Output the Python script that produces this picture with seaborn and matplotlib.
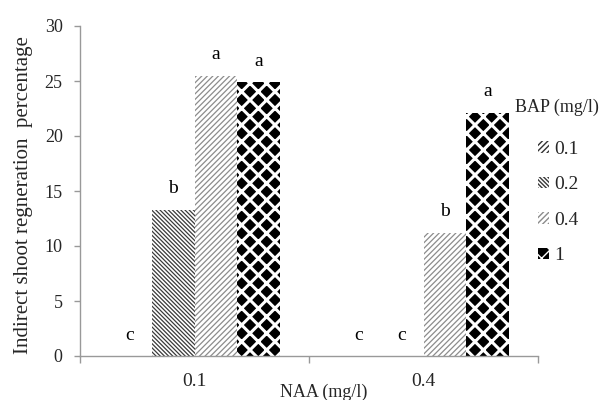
import numpy as np
import pandas as pd
import matplotlib
matplotlib.use("Agg")
import matplotlib.pyplot as plt
import seaborn as sns
from matplotlib.patches import Patch

naa_levels = ["0.1", "0.4"]
bap_levels = ["0.1", "0.2", "0.4", "1"]
values_naa_01 = [0.0, 13.3, 25.5, 24.9]
values_naa_04 = [0.0, 0.0, 11.2, 22.1]
letters_naa_01 = ["c", "b", "a", "a"]
letters_naa_04 = ["c", "c", "b", "a"]

rows = []
for naa, vals, lets in [("0.1", values_naa_01, letters_naa_01), ("0.4", values_naa_04, letters_naa_04)]:
    for b, v, l in zip(bap_levels, vals, lets):
        rows.append({"NAA": naa, "BAP": b, "value": v, "letter": l})
df = pd.DataFrame(rows)

sns.set_theme(style="white")
plt.rcParams["font.family"] = ["Liberation Serif", "DejaVu Serif"]
plt.rcParams["hatch.linewidth"] = 1.0

fig = plt.figure(figsize=(6.12, 4.0), dpi=100)
ax = fig.add_axes([80 / 612, 1 - 356 / 400, 458 / 612, 330 / 400])

sns.barplot(data=df, x="NAA", y="value", hue="BAP", order=naa_levels,
            hue_order=bap_levels, width=0.75, ax=ax, legend=False,
            errorbar=None, saturation=1)

styles = {
    "0.1": dict(facecolor="white", edgecolor="#333333", hatch="//////", hlw=1.0),
    "0.2": dict(facecolor="white", edgecolor="#3a3a3a", hatch="\\\\\\\\\\\\\\\\", hlw=0.9),
    "0.4": dict(facecolor="white", edgecolor="#8c8c8c", hatch="//////", hlw=0.9),
    "1": dict(facecolor="black", edgecolor="white", hatch="xx", hlw=2.2),
}

def style_patch(p, st):
    p.set_facecolor(st["facecolor"])
    p.set_edgecolor(st["edgecolor"])
    p.set_hatch(st["hatch"])
    p.set_linewidth(0)
    if hasattr(p, "set_hatch_linewidth"):
        p.set_hatch_linewidth(st["hlw"])

for cont, b in zip(ax.containers, bap_levels):
    st = styles[b]
    sub = df[df["BAP"] == b].set_index("NAA").loc[naa_levels]
    for p, v, l in zip(cont, sub["value"], sub["letter"]):
        style_patch(p, st)
        ax.text(p.get_x() + p.get_width() / 2, v + 1.5, l, ha="center",
                va="baseline", fontsize=14, color="black")

ax.set_ylim(0, 30)
ax.set_xlim(-0.5, 1.5)
ax.set_yticks(np.arange(0, 31, 5))
ax.tick_params(axis="y", labelsize=13, length=4, width=1, direction="out",
               color="#999999", left=True, pad=8.5)
ax.set_xticks([0, 1])
ax.set_xticklabels(naa_levels)
ax.tick_params(axis="x", which="major", labelsize=14, length=0, pad=12)
ax.set_xticks([-0.5, 0.5, 1.5], minor=True)
ax.tick_params(axis="x", which="minor", length=5, width=1, direction="out",
               color="#999999", bottom=True)
for s in ["top", "right"]:
    ax.spines[s].set_visible(False)
for s in ["left", "bottom"]:
    ax.spines[s].set_color("#999999")
    ax.spines[s].set_linewidth(1.0)

ax.set_ylabel("Indirect shoot regneration  percentage", fontsize=15)
ax.yaxis.set_label_coords(-0.103, 0.488)
ax.set_xlabel("NAA (mg/l)", fontsize=13)
ax.xaxis.set_label_coords(0.533, -0.083)

fig.text(515 / 612, 1 - 107 / 400, "BAP (mg/l)", fontsize=13, ha="left", va="center")

handles = []
for b in bap_levels:
    h = Patch(label=b)
    style_patch(h, styles[b])
    handles.append(h)
leg = ax.legend(handles=handles, loc="upper left",
                bbox_to_anchor=(538 / 612, 1 - 141 / 400),
                bbox_transform=fig.transFigure, frameon=False, fontsize=14,
                handlelength=0.55, handleheight=0.55, handletextpad=0.3,
                labelspacing=0.95, borderpad=0, borderaxespad=0)

fig.savefig("out.png", dpi=100)
